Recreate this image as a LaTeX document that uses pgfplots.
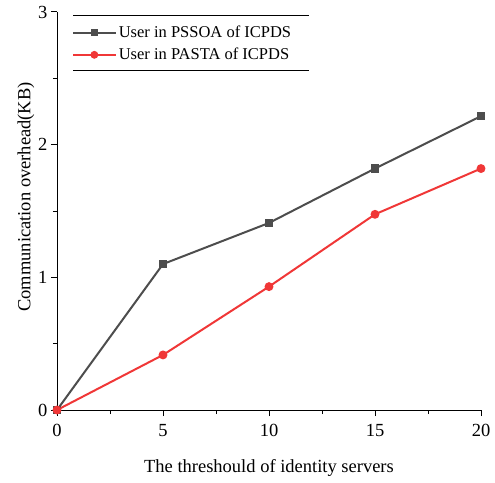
\documentclass[border=0pt]{standalone}
\usepackage{pgfplots}
\pgfplotsset{compat=1.18}
\usepackage{fontspec}
\setmainfont{Liberation Serif}
\definecolor{cgray}{RGB}{77,77,77}
\definecolor{cred}{RGB}{240,55,55}
\begin{document}
\begin{tikzpicture}
\begin{axis}[
  scale only axis,
  width=424pt, height=398pt,
  xmin=0, xmax=20, ymin=0, ymax=3,
  axis lines=left,
  axis line style={-, line width=1pt},
  xtick={0,5,10,15,20},
  ytick={0,1,2,3},
  minor x tick num=1,
  minor y tick num=1,
  tick align=outside,
  major tick length=6pt,
  minor tick length=4pt,
  tick style={line width=1pt, black},
  /pgf/number format/assume math mode=true,
  tick label style={font=\fontsize{18.5}{20}\selectfont},
  xticklabel style={yshift=-5pt},
  xlabel={The threshould of identity servers},
  ylabel={Communication overhead(KB)},
  label style={font=\fontsize{18.5}{20}\selectfont},
  xlabel style={yshift=-16pt},
  ylabel style={yshift=-3pt, xshift=14pt},
  legend style={at={(rel axis cs:0.03,0.975)}, anchor=north west, draw=none, fill=none,
    font=\fontsize{16.5}{18}\selectfont, row sep=5pt, inner xsep=2pt,
    nodes={inner xsep=2pt}},
  legend image code/.code={\draw[#1, line width=2.2pt] (0cm,0cm) -- (1.5cm,0cm); \draw[#1, line width=1pt, mark repeat=2, mark phase=2] plot coordinates {(0cm,0cm) (0.75cm,0cm) (1.5cm,0cm)};},
  legend cell align=left,
  clip=true,
]
\addplot[cgray, line width=2pt, mark=square*, mark size=3.2pt] coordinates {(0,0) (5,1.10) (10,1.41) (15,1.82) (20,2.215)};
\addlegendentry{User in PSSOA of ICPDS}
\addplot[cred, line width=2pt, mark=*, mark size=3.4pt] coordinates {(0,0) (5,0.415) (10,0.93) (15,1.475) (20,1.82)};
\addlegendentry{User in PASTA of ICPDS}
\draw[line width=0.8pt] (rel axis cs:0.038,0.992) -- (rel axis cs:0.594,0.992);
\draw[line width=0.8pt] (rel axis cs:0.038,0.854) -- (rel axis cs:0.594,0.854);
\coordinate (ll) at (rel axis cs:0,0);
\coordinate (ur) at (rel axis cs:1,1);
\end{axis}
\pgfresetboundingbox
\path ([xshift=-57pt,yshift=-72pt]ll) rectangle ([xshift=14pt,yshift=12pt]ur);
\end{tikzpicture}
\end{document}
